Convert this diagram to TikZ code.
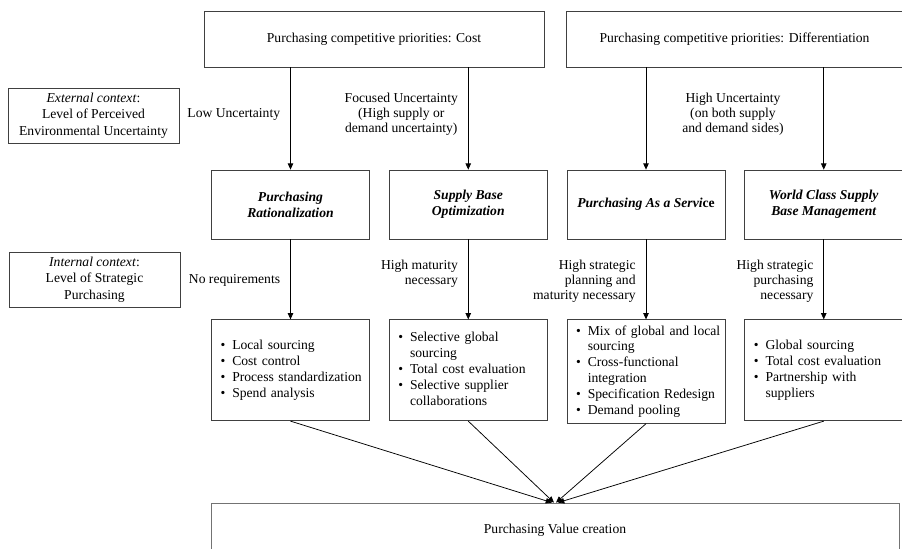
\documentclass[tikz,border=0pt]{standalone}
\usepackage{fontspec}
\setmainfont{Liberation Serif}
\usetikzlibrary{arrows.meta}
\usetikzlibrary{positioning}

\begin{document}
\begin{tikzpicture}
      [x=0.8pt,y=-0.8pt,
       every node/.style={font=\fontsize{10.9pt}{12pt}\selectfont},
       priorityBox/.style={rectangle,draw=black!75,line width=0.6pt,minimum width=272pt,minimum height=44.8pt},
       contextBox/.style={rectangle,draw=black!75,line width=0.6pt,minimum width=136.8pt,minimum height=44pt,align=center,inner sep=1pt,font=\fontsize{10.9pt}{13.4pt}\selectfont},
       strategyBox/.style={rectangle,draw=black!75,line width=0.6pt,minimum width=126.4pt,minimum height=55.2pt,align=center,node distance=15.2pt,font=\fontsize{10.9pt}{12.8pt}\selectfont\bfseries\itshape},
       practiceBox/.style={rectangle,draw=black!75,line width=0.6pt,text width=112pt,inner xsep=7.2pt,minimum height=80.8pt,align=left,node distance=64pt,font=\fontsize{10.9pt}{12.7pt}\selectfont},
       valueBox/.style={rectangle,draw=black!55,line width=0.6pt,minimum width=550.4pt,minimum height=43.2pt},
       edgeLabel/.style={inner sep=0pt,align=right},
       flow/.style={-{Triangle[length=5pt,width=4.4pt]},line width=0.6pt}]
      \path[use as bounding box,clip] (0,0) rectangle (902,549);
      % priorities
      \node[priorityBox] (costPrio) at (374,39) {Purchasing competitive priorities: Cost};
      \node[priorityBox,minimum width=269.6pt] (diffPrio) at (734.5,39) {Purchasing competitive priorities: Differentiation};
      % context
      \node[contextBox] (extContext) at (93.5,115.5) {\textit{External context}:\\Level of Perceived\\Environmental Uncertainty};
      \node[contextBox] (intContext) at (94.5,279.5) {\textit{Internal context}:\\Level of Strategic\\Purchasing};
      % strategies
      \node[strategyBox] (rational) at (290.5,204.5) {Purchasing\\Rationalization};
      \node[strategyBox] (baseOpt) [right=of rational] {Supply Base\\Optimization};
      \node[strategyBox] (service) [right=of baseOpt] {Purchasing As a Servi{\upshape ce}};
      \node[strategyBox] (worldClass) [right=of service] {World Class Supply\\Base Management};
      % practices
      \node[practiceBox] (ratPractice) [below=of rational] {\begin{tabular}{@{}l@{\hspace{5.6pt}}l@{}}
        \textbullet & Local sourcing\\
        \textbullet & Cost control\\
        \textbullet & Process standardization\\
        \textbullet & Spend analysis
      \end{tabular}};
      \node[practiceBox] (optPractice) [below=of baseOpt] {\begin{tabular}{@{}l@{\hspace{5.6pt}}l@{}}
        \textbullet & Selective global\\
        & sourcing\\
        \textbullet & Total cost evaluation\\
        \textbullet & Selective supplier\\
        & collaborations
      \end{tabular}};
      \node[practiceBox] (servPractice) [below=of service] {\begin{tabular}{@{}l@{\hspace{5.6pt}}l@{}}
        \textbullet & Mix of global and local\\
        & sourcing\\
        \textbullet & Cross-functional\\
        & integration\\
        \textbullet & Specification Redesign\\
        \textbullet & Demand pooling
      \end{tabular}};
      \node[practiceBox] (wcPractice) [below=of worldClass] {\begin{tabular}{@{}l@{\hspace{5.6pt}}l@{}}
        \textbullet & Global sourcing\\
        \textbullet & Total cost evaluation\\
        \textbullet & Partnership with\\
        & suppliers
      \end{tabular}};
      \node[valueBox] (valueCreation) at (555,530) {Purchasing Value creation};
      % arrows
      \draw[flow] (rational |- costPrio.south) -- node[edgeLabel,pos=0.46,left=8pt] {Low Uncertainty} (rational.north);
      \draw[flow] (baseOpt |- costPrio.south) -- node[edgeLabel,align=center,pos=0.46,left=8pt] {Focused Uncertainty\\(High supply or\\demand uncertainty)} (baseOpt.north);
      \draw[flow] (service |- diffPrio.south) -- (service.north);
      \draw[flow] (worldClass |- diffPrio.south) -- (worldClass.north);
      \node[edgeLabel,align=center] (highUnc) at (733,114) {High Uncertainty\\(on both supply\\and demand sides)};
      \draw[flow] (rational) -- node[edgeLabel,pos=0.51,left=8pt] {No requirements} (ratPractice);
      \draw[flow] (baseOpt) -- node[edgeLabel,pos=0.43,left=8pt] {High maturity\\necessary} (optPractice);
      \draw[flow] (service) -- node[edgeLabel,pos=0.52,left=8pt] {High strategic\\planning and\\maturity necessary} (servPractice);
      \draw[flow] (worldClass) -- node[edgeLabel,pos=0.52,left=8pt] {High strategic\\purchasing\\necessary} (wcPractice);
      \draw[flow] (ratPractice.south) -- ([xshift=-2.4pt]valueCreation.north);
      \draw[flow] (optPractice.south) -- ([xshift=-0.8pt]valueCreation.north);
      \draw[flow] (servPractice.south) -- ([xshift=0.8pt]valueCreation.north);
      \draw[flow] (wcPractice.south) -- ([xshift=2.4pt]valueCreation.north);
    \end{tikzpicture}
\end{document}
